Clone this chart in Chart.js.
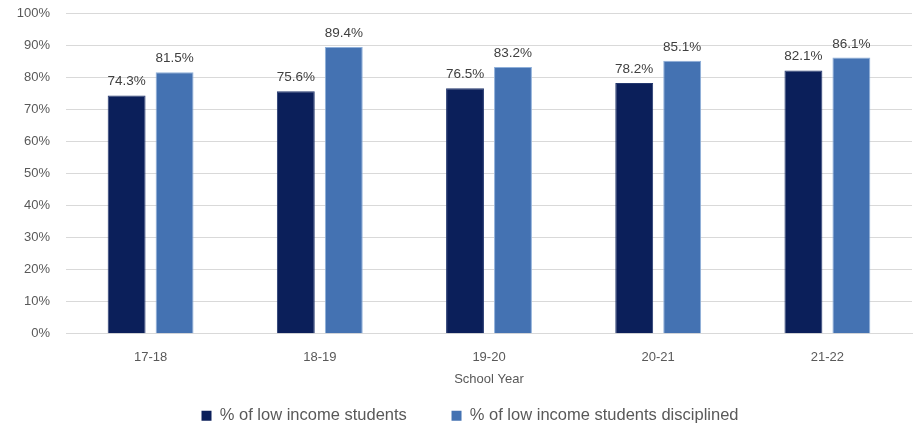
<!DOCTYPE html>
<html>
<head>
<meta charset="utf-8">
<script src="https://cdn.jsdelivr.net/npm/chart.js@4.4.1/dist/chart.umd.min.js"></script>
<style>
  html, body { margin: 0; padding: 0; background: #ffffff; }
  #wrap { width: 916px; height: 423px; position: relative; }
</style>
</head>
<body>
<div id="wrap"><canvas id="chart"></canvas></div>
<script>
// School years on the x axis
const schoolYears = ['17-18', '18-19', '19-20', '20-21', '21-22'];
// Share of all students who are low income (%)
const lowIncomeShare = [74.3, 75.6, 76.5, 78.2, 82.1];
// Share of disciplined students who are low income (%)
const disciplinedShare = [81.5, 89.4, 83.2, 85.1, 86.1];
// Series names
const seriesNames = ['% of low income students', '% of low income students disciplined'];

const FONT = '"Liberation Sans", Arial, sans-serif';
const TEXT = '#595959';

// Value labels printed above each bar
const barValueLabels = {
  id: 'barValueLabels',
  afterDatasetsDraw(chart) {
    const ctx = chart.ctx;
    ctx.save();
    ctx.font = '13.5px ' + FONT;
    ctx.fillStyle = '#404040';
    ctx.textAlign = 'center';
    ctx.textBaseline = 'bottom';
    chart.data.datasets.forEach((ds, di) => {
      chart.getDatasetMeta(di).data.forEach((bar, i) => {
        ctx.fillText(ds.data[i].toFixed(1) + '%', bar.x, bar.y - 7);
      });
    });
    ctx.restore();
  }
};

// Nudge the legend a little right and down after layout
const legendOffset = {
  id: 'legendOffset',
  afterLayout(chart) {
    const lg = chart.legend;
    if (!lg) return;
    lg.left += 14; lg.right += 14;
    lg.top += 11; lg.bottom += 11;
  }
};

new Chart(document.getElementById('chart'), {
  type: 'bar',
  data: {
    labels: schoolYears,
    datasets: [
      {
        label: seriesNames[0],
        data: lowIncomeShare,
        backgroundColor: '#0b1f5a',
        borderColor: '#24386f',
        borderWidth: 1,
        barPercentage: 0.79,
        categoryPercentage: 0.567
      },
      {
        label: seriesNames[1],
        data: disciplinedShare,
        backgroundColor: '#4472b2',
        borderColor: '#8eafd9',
        borderWidth: 1,
        barPercentage: 0.79,
        categoryPercentage: 0.567
      }
    ]
  },
  options: {
    responsive: true,
    maintainAspectRatio: false,
    animation: false,
    layout: { padding: { top: 13, right: 4, left: 0, bottom: 0 } },
    plugins: {
      tooltip: { enabled: false },
      legend: {
        position: 'bottom',
        align: 'center',
        labels: {
          font: { family: FONT, size: 16.5 },
          color: TEXT,
          boxWidth: 10,
          boxHeight: 10,
          padding: 8,
          generateLabels(chart) {
            const items = Chart.defaults.plugins.legend.labels.generateLabels(chart);
            // widen the gap after the first entry
            items[0].text = items[0].text + '        ';
            items.forEach(it => { it.lineWidth = 0; });
            return items;
          }
        }
      }
    },
    scales: {
      x: {
        grid: { display: true, color: 'rgba(0,0,0,0)', drawTicks: true, tickLength: 13, tickColor: 'rgba(0,0,0,0)' },
        border: { color: '#d9d9d9' },
        ticks: { font: { family: FONT, size: 13 }, color: TEXT, padding: 3 },
        title: {
          display: true,
          text: 'School Year',
          font: { family: FONT, size: 13 },
          color: TEXT,
          padding: { top: 3.6, bottom: 1 }
        }
      },
      y: {
        min: 0,
        max: 100,
        afterFit(scale) { scale.width = 66; },
        grid: { color: '#d9d9d9', drawTicks: true, tickLength: 13, tickColor: 'rgba(0,0,0,0)' },
        border: { display: false },
        ticks: {
          stepSize: 10,
          font: { family: FONT, size: 13 },
          color: TEXT,
          padding: 3,
          callback: v => v + '%'
        }
      }
    }
  },
  plugins: [barValueLabels, legendOffset]
});
</script>
</body>
</html>
